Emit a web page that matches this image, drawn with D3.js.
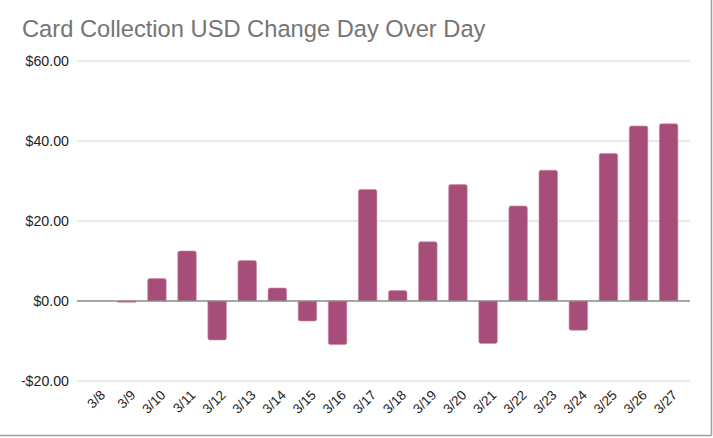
<!DOCTYPE html>
<html>
<head>
<meta charset="utf-8">
<script src="https://cdn.jsdelivr.net/npm/d3@7/dist/d3.min.js"></script>
<style>
  html, body { margin: 0; padding: 0; background: #fff; }
  svg { display: block; }
</style>
</head>
<body>
<svg id="chart" width="713" height="438"></svg>
<script>
const title = "Card Collection USD Change Day Over Day";
const categories = ["3/8","3/9","3/10","3/11","3/12","3/13","3/14","3/15","3/16","3/17","3/18","3/19","3/20","3/21","3/22","3/23","3/24","3/25","3/26","3/27"];
const values = [0, -0.3, 5.6, 12.5, -9.75, 10.1, 3.25, -5.0, -10.9, 27.9, 2.6, 14.8, 29.1, -10.6, 23.75, 32.7, -7.3, 36.9, 43.75, 44.3];
const yTicks = [-20, 0, 20, 40, 60];

const svg = d3.select("#chart");
const W = 713, H = 438;
const font = "'Liberation Sans', Arial, sans-serif";

// frame
svg.append("rect").attr("x", 0).attr("y", 0).attr("width", W).attr("height", H).attr("fill", "#fff");
svg.append("line").attr("x1", 711.5).attr("x2", 711.5).attr("y1", 0).attr("y2", 435.5).attr("stroke", "#9e9e9e").attr("stroke-width", 1.5);
svg.append("line").attr("x1", 0).attr("x2", 711.5).attr("y1", 435.5).attr("y2", 435.5).attr("stroke", "#9e9e9e").attr("stroke-width", 1.5);

// title
svg.append("text").attr("x", 22).attr("y", 37)
  .attr("font-family", font).attr("font-size", 23.7).attr("fill", "#757575")
  .text(title);

const x = d3.scaleBand().domain(categories).range([81.7, 683.7]).paddingInner(0.385).paddingOuter(0.1925);
const y = d3.scaleLinear().domain([-20, 60]).range([381, 61]);

const gridX1 = 77, gridX2 = 690;

// gridlines
svg.append("g").selectAll("line").data(yTicks.filter(d => d !== 0)).join("line")
  .attr("x1", gridX1).attr("x2", gridX2)
  .attr("y1", d => y(d)).attr("y2", d => y(d))
  .attr("stroke", "#e0e0e0").attr("stroke-width", 1.5);

// y axis labels
const yAxis = d3.axisLeft(y).tickValues(yTicks).tickSize(0).tickPadding(0)
  .tickFormat(d => (d < 0 ? "-$" : "$") + Math.abs(d).toFixed(2));
const gy = svg.append("g").attr("transform", "translate(69,0)").call(yAxis);
gy.attr("font-size", null).attr("font-family", null);
gy.select(".domain").remove();
gy.selectAll("text").attr("font-family", font).attr("font-size", 14.2).attr("fill", "#222");

// bars
const r = 2;
function barPath(d, i) {
  const x0 = x(categories[i]), w = x.bandwidth();
  const y0 = y(0), y1 = y(d);
  if (d === 0) return "";
  if (Math.abs(y1 - y0) < 1.5) {
    const yy = Math.min(y0, y1);
    return `M${x0},${yy}h${w}v${Math.abs(y1 - y0)}h${-w}Z`;
  }
  if (d >= 0) {
    return `M${x0},${y0}V${y1 + r}Q${x0},${y1} ${x0 + r},${y1}H${x0 + w - r}Q${x0 + w},${y1} ${x0 + w},${y1 + r}V${y0}Z`;
  } else {
    return `M${x0},${y0}V${y1 - r}Q${x0},${y1} ${x0 + r},${y1}H${x0 + w - r}Q${x0 + w},${y1} ${x0 + w},${y1 - r}V${y0}Z`;
  }
}
svg.append("g").selectAll("path").data(values).join("path")
  .attr("d", (d, i) => barPath(d, i))
  .attr("fill", "#a64d79")
  .attr("stroke", "#c98aa9").attr("stroke-width", 0.6);

// zero line
svg.append("line").attr("x1", gridX1).attr("x2", gridX2)
  .attr("y1", y(0)).attr("y2", y(0))
  .attr("stroke", "#8a8a8a").attr("stroke-width", 1.5);

// x labels
const xAxis = d3.axisBottom(x).tickSize(0).tickPadding(0);
const gx = svg.append("g").call(xAxis);
gx.attr("font-size", null).attr("font-family", null);
gx.select(".domain").remove();
gx.selectAll(".tick").attr("transform", d => `translate(${x(d) + x.bandwidth() / 2 + 6},392.5)`);
gx.selectAll("text")
  .attr("font-family", font).attr("font-size", 13.5).attr("fill", "#222")
  .attr("text-anchor", "end").attr("x", 0).attr("y", 0).attr("dy", "0.35em")
  .attr("transform", "rotate(-45)");
</script>
</body>
</html>
